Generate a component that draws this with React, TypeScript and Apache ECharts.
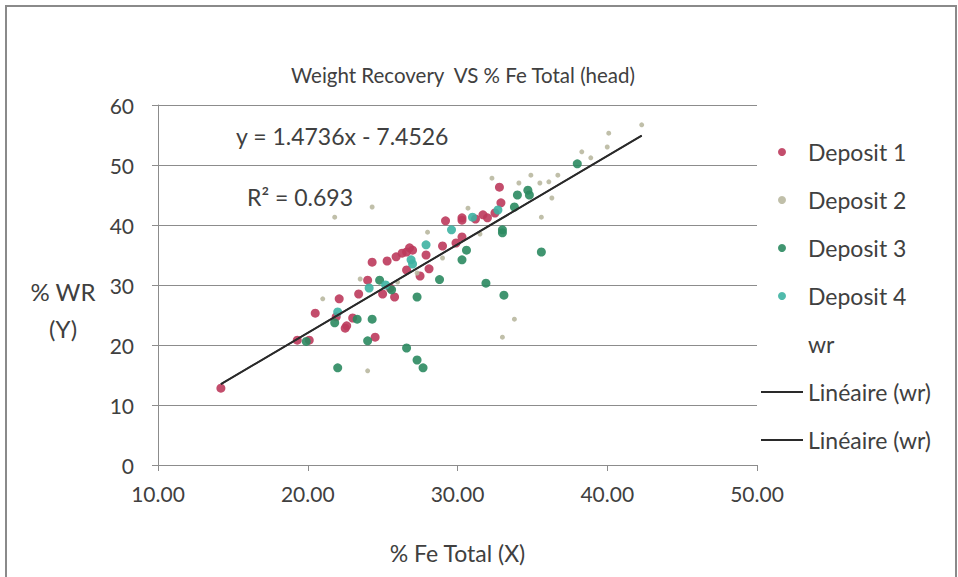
import React, { useEffect, useRef } from "react";
import * as echarts from "echarts";

const titleText = "Weight Recovery  VS % Fe Total (head)";
const xAxisName = "% Fe Total (X)";
const yAxisName = "% WR\n(Y)";
const equationText = "y = 1.4736x - 7.4526";
const r2Text = "R² = 0.693";

const xTicks = { min: 10, max: 50, interval: 10 };
const yTicks = { min: 0, max: 60, interval: 10 };

// [% Fe Total, % WR]
const deposit1: number[][] = [
  [14.2, 12.8], [19.3, 20.8], [20.1, 20.8], [20.5, 25.3], [22.1, 27.7], [21.9, 24.7],
  [22.6, 23.2], [23.4, 28.5], [24.5, 21.3], [25.0, 28.5], [24.0, 30.8], [24.3, 33.8],
  [25.3, 34.0], [25.9, 34.7], [26.6, 35.5], [26.8, 36.2], [26.3, 35.3], [27.0, 35.8],
  [27.9, 35.0], [28.1, 32.7], [26.6, 32.5], [27.5, 31.5], [29.2, 40.7], [30.3, 40.8],
  [30.3, 41.2], [29.9, 37.0], [30.3, 38.0], [31.2, 41.0], [32.0, 41.2], [32.8, 46.3],
  [32.9, 43.7], [32.5, 42.0], [29.0, 36.5], [25.5, 29.5], [23.0, 24.5], [22.5, 22.8],
  [25.8, 28.0], [31.7, 41.7],
];
const deposit2: number[][] = [
  [21.0, 27.7], [21.8, 41.3], [24.3, 43.0], [24.0, 15.7], [33.0, 21.3], [33.8, 24.3],
  [28.0, 38.8], [30.7, 42.8], [32.3, 47.8], [34.1, 47.0], [34.9, 48.3], [35.5, 47.0],
  [36.1, 47.2], [36.7, 48.3], [36.3, 44.5], [35.6, 41.3], [38.3, 52.2], [38.9, 51.2],
  [40.0, 53.0], [40.1, 55.3], [42.3, 56.7], [26.0, 30.5], [27.3, 32.0], [23.5, 31.0],
  [29.0, 34.5], [31.5, 38.5],
];
const deposit3: number[][] = [
  [22.0, 16.2], [21.8, 23.7], [23.3, 24.3], [24.3, 24.3], [24.0, 20.7], [26.6, 19.5],
  [27.3, 17.5], [27.7, 16.2], [27.3, 28.0], [25.6, 29.2], [28.8, 30.9], [30.3, 34.2],
  [30.6, 35.8], [31.9, 30.3], [33.1, 28.3], [33.0, 39.2], [33.0, 38.7], [33.8, 43.0],
  [34.0, 45.0], [34.7, 45.8], [34.8, 45.0], [35.6, 35.5], [38.0, 50.2], [19.9, 20.6],
  [24.8, 30.8],
];
const deposit4: number[][] = [
  [24.1, 29.5], [26.9, 34.2], [27.9, 36.7], [29.6, 39.2], [31.0, 41.3], [32.7, 42.5],
  [25.2, 30.0], [27.0, 33.5], [22.0, 25.5],
];

const trendSlope = 1.4736;
const trendIntercept = -7.4526;
const trendXRange = [14.2, 42.3];

const FONT = "Lato, 'Open Sans', sans-serif";
const TEXT = "#404040";
const GRID = "#8c8c8c";

export default function App() {
  const ref = useRef<HTMLDivElement>(null);

  useEffect(() => {
    if (!ref.current) return;
    const chart = echarts.init(ref.current, undefined, { renderer: "svg" });
    const trendData = trendXRange.map((x) => [x, trendSlope * x + trendIntercept]);
    const scatter = (name: string, data: number[][], color: string, size: number) => ({
      name,
      type: "scatter",
      data,
      symbolSize: size,
      itemStyle: { color, opacity: 0.9 },
      z: 3,
    });
    chart.setOption({
      animation: false,
      backgroundColor: "#ffffff",
      textStyle: { fontFamily: FONT },
      title: {
        text: titleText,
        left: 458,
        top: 59,
        textAlign: "center",
        textStyle: { fontFamily: FONT, fontSize: 20.5, fontWeight: "normal", color: TEXT },
      },
      grid: { left: 158, right: 201, top: 105, bottom: 112 },
      xAxis: {
        type: "value",
        min: xTicks.min,
        max: xTicks.max,
        interval: xTicks.interval,
        name: xAxisName,
        nameLocation: "middle",
        nameGap: 76,
        nameTextStyle: { fontFamily: FONT, fontSize: 23, color: TEXT },
        axisLine: { show: true, lineStyle: { color: GRID, width: 1 } },
        axisTick: { show: true, length: 6, lineStyle: { color: GRID } },
        axisLabel: {
          margin: 18,
          fontFamily: FONT,
          fontSize: 21,
          color: TEXT,
          formatter: (v: number) => v.toFixed(2),
        },
        splitLine: { show: false },
      },
      yAxis: {
        type: "value",
        min: yTicks.min,
        max: yTicks.max,
        interval: yTicks.interval,
        axisLine: { show: true, lineStyle: { color: GRID, width: 1 } },
        axisTick: { show: true, length: 6, lineStyle: { color: GRID } },
        axisLabel: { margin: 24, fontFamily: FONT, fontSize: 21, color: TEXT },
        splitLine: { show: true, lineStyle: { color: GRID, width: 1 } },
      },
      legend: {
        orient: "vertical",
        left: 755,
        top: 133,
        itemWidth: 42,
        itemHeight: 8,
        itemGap: 20,
        textStyle: { fontFamily: FONT, fontSize: 23, color: TEXT, lineHeight: 28 },
        formatter: (n: string) => n.trim(),
        data: [
          { name: "Deposit 1" },
          { name: "Deposit 2" },
          { name: "Deposit 3" },
          { name: "Deposit 4" },
          { name: "wr", itemStyle: { opacity: 0 } },
          { name: "Linéaire (wr)", itemStyle: { opacity: 0 } },
          { name: "Linéaire (wr) ", itemStyle: { opacity: 0 } },
        ],
      },
      graphic: [
        {
          type: "rect",
          shape: { x: 6, y: 6, width: 950, height: 600 },
          style: { fill: "none", stroke: "#8a8a8a", lineWidth: 2 },
          silent: true,
        },
        {
          type: "text",
          x: 63,
          y: 310,
          style: {
            text: yAxisName,
            textAlign: "center",
            textVerticalAlign: "middle",
            fontFamily: FONT,
            fontSize: 24,
            lineHeight: 37,
            fill: TEXT,
          },
        },
        {
          type: "text",
          x: 236,
          y: 136,
          style: {
            text: equationText,
            textVerticalAlign: "middle",
            fontFamily: FONT,
            fontSize: 23,
            fill: TEXT,
          },
        },
        {
          type: "text",
          x: 247,
          y: 197,
          style: {
            text: r2Text,
            textVerticalAlign: "middle",
            fontFamily: FONT,
            fontSize: 23,
            fill: TEXT,
          },
        },
      ],
      series: [
        scatter("Deposit 1", deposit1, "#bc3a5c", 9),
        scatter("Deposit 2", deposit2, "#b9b8a0", 5),
        scatter("Deposit 3", deposit3, "#2b8a60", 9),
        scatter("Deposit 4", deposit4, "#3db3a2", 9),
        { name: "wr", type: "scatter", data: [], itemStyle: { color: "#ffffff" } },
        {
          name: "Linéaire (wr)",
          type: "line",
          data: trendData,
          symbol: "none",
          itemStyle: { color: "#2a2a2a" },
          lineStyle: { color: "#2a2a2a", width: 2 },
          z: 4,
        },
        {
          name: "Linéaire (wr) ",
          type: "line",
          data: trendData,
          symbol: "none",
          itemStyle: { color: "#2a2a2a" },
          lineStyle: { color: "#2a2a2a", width: 1.5 },
          z: 4,
        },
      ],
    });
    return () => chart.dispose();
  }, []);

  return (
    <div
      ref={ref}
      style={{ position: "absolute", left: 0, top: 0, width: 958, height: 577 }}
    />
  );
}
